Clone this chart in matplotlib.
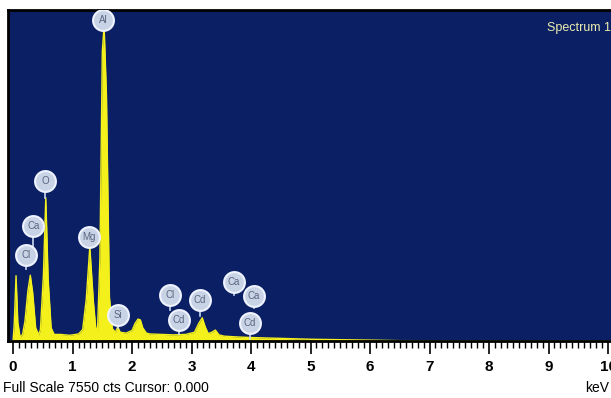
import matplotlib.pyplot as plt
from matplotlib.ticker import MultipleLocator

plt.rcParams['font.family'] = ['Liberation Sans Narrow', 'Liberation Sans', 'DejaVu Sans']

# spectrum outline (energy in keV, counts)
energy = [-0.08, 0.0, 0.02, 0.05, 0.08, 0.12, 0.16, 0.2, 0.25, 0.29, 0.33, 0.38, 0.43,
          0.46, 0.51, 0.55, 0.59, 0.64, 0.69, 0.8, 0.95, 1.1, 1.17, 1.23, 1.29, 1.35,
          1.39, 1.42, 1.46, 1.5, 1.53, 1.57, 1.62, 1.67, 1.72, 1.76, 1.8, 1.9, 2.0,
          2.05, 2.1, 2.14, 2.18, 2.24, 2.3, 2.5, 2.7, 2.9, 3.05, 3.12, 3.18, 3.23,
          3.28, 3.34, 3.4, 3.46, 3.55, 3.8, 4.1, 4.5, 5.0, 5.5, 6.1, 6.5, 8.0, 10.1]
counts = [0, 0, 400, 1490, 420, 80, 150, 450, 1150, 1500, 1100, 300, 140,
          260, 1500, 3270, 1400, 300, 150, 150, 130, 160, 260, 950, 2150, 900,
          300, 260, 1900, 6600, 7200, 5600, 1000, 280, 200, 320, 200, 180, 240,
          400, 500, 480, 300, 180, 160, 150, 140, 150, 200, 400, 530, 320,
          170, 200, 250, 140, 110, 90, 75, 60, 40, 30, 18, 8, 4, 0]

# element markers: label, energy (keV), marker height, stem bottom (counts)
elements = ['Al', 'O', 'Ca', 'Cl', 'Mg', 'Si', 'Cl', 'Cd', 'Cd', 'Ca', 'Ca', 'Cd']
el_energy = [1.51, 0.54, 0.34, 0.22, 1.28, 1.76, 2.64, 2.79, 3.14, 3.71, 4.05, 3.98]
el_height = [7320, 3640, 2630, 1970, 2380, 595, 1050, 480, 940, 1350, 1030, 410]
el_stem = [7200, 3270, 2150, 1650, 2150, 300, 700, 150, 560, 1050, 750, 40]

fig = plt.figure(figsize=(6.11, 3.98), dpi=100)
ax = fig.add_axes([8 / 611, 57 / 398, 603 / 611, 331 / 398])
ax.set_facecolor('#0b2064')

ax.fill_between(energy, counts, 0, color='#f4f01c', lw=0, zorder=2)
ax.plot(energy, counts, color='#f4f01c', lw=1.0, zorder=2)

# label stems and gear-like circles
for name, e, h, s in zip(elements, el_energy, el_height, el_stem):
    ax.plot([e, e], [s, h], color='#c8d8f0', lw=1.2, zorder=3)
    ax.plot(e, h, 'o', ms=15, mfc='#c9d3e6', mec='#eef3ff', mew=1.5, zorder=4)
    ax.text(e, h, name, ha='center', va='center', fontsize=7, color='#5a6480', zorder=5)

ax.set_xlim(-0.085, 10.05)
ax.set_ylim(0, 7550)
ax.set_yticks([])
ax.xaxis.set_major_locator(MultipleLocator(1))
ax.xaxis.set_minor_locator(MultipleLocator(0.1))
ax.tick_params(axis='x', which='major', length=9, width=1.2, color='black', pad=5,
               labelsize=11)
ax.tick_params(axis='x', which='minor', length=5, width=1, color='black')
for lab in ax.get_xticklabels():
    lab.set_fontweight('bold')
for sp in ['left', 'top', 'bottom']:
    ax.spines[sp].set_color('black')
    ax.spines[sp].set_linewidth(2)
ax.spines['right'].set_visible(False)

ax.text(8.97, 7150, 'Spectrum 1', color='#eeeeb0', fontsize=9, va='center', clip_on=False)
fig.text(3 / 611, 1 - 388 / 398, 'Full Scale 7550 cts Cursor: 0.000', fontsize=10,
         va='center', ha='left')
fig.text(609 / 611, 1 - 388 / 398, 'keV', fontsize=10, va='center', ha='right')

fig.savefig('out.png', dpi=100)
